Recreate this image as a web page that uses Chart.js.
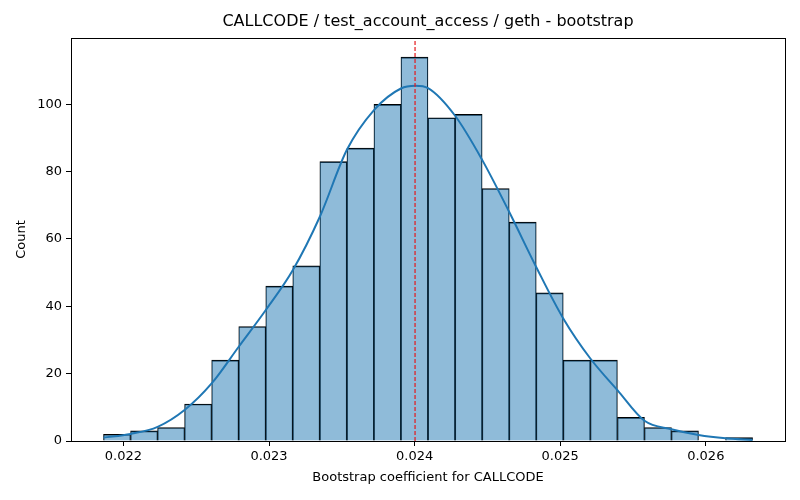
<!DOCTYPE html>
<html>
<head>
<meta charset="utf-8">
<script src="https://cdn.jsdelivr.net/npm/chart.js@4/dist/chart.umd.min.js"></script>
<style>
  html, body { margin: 0; padding: 0; background: #fff; }
  #wrap { width: 800px; height: 500px; }
</style>
</head>
<body>
<div id="wrap"><canvas id="myChart" width="800" height="500"></canvas></div>
<script>
'use strict';

// histogram bins (edges) and counts
const binEdges = [0.021863, 0.022049, 0.022235, 0.022420, 0.022606, 0.022792, 0.022978, 0.023163,
  0.023349, 0.023535, 0.023721, 0.023906, 0.024092, 0.024278, 0.024464, 0.024650, 0.024835,
  0.025021, 0.025207, 0.025393, 0.025579, 0.025764, 0.025950, 0.026136, 0.026321];
const counts = [2, 3, 4, 11, 24, 34, 46, 52, 83, 87, 100, 114, 96, 97, 75, 65, 44, 24, 24, 7, 4, 3, 0, 1];

// kde curve
const kdeX = [0.021863, 0.022049, 0.022235, 0.022420, 0.022606, 0.022792, 0.022978, 0.023163,
  0.023349, 0.023535, 0.023721, 0.023906, 0.024006, 0.024092, 0.024278, 0.024464, 0.024650,
  0.024835, 0.025021, 0.025207, 0.025393, 0.025579, 0.025764, 0.025950, 0.026136, 0.026321];
const kdeY = [1.0, 2.1, 4.2, 9.2, 17.1, 28.0, 38.9, 50.7, 66.6, 86.5, 98.3, 104.7, 105.5, 104.8,
  96.6, 83.5, 68.0, 51.7, 36.4, 24.5, 15.1, 6.0, 3.5, 1.8, 0.8, 0.3];

const markerX = 0.024003;
const xTicks = [0.022, 0.023, 0.024, 0.025, 0.026];
const yTicks = [0, 20, 40, 60, 80, 100];

const xMin = 0.021640, xMax = 0.026544;
const yMax = 119.7;

const titleText = 'CALLCODE / test_account_access / geth - bootstrap';
const FONT = "'DejaVu Sans', sans-serif";

const barData = counts.map((c, i) => ({ x: (binEdges[i] + binEdges[i + 1]) / 2, y: c }));
const kdeData = kdeX.map((x, i) => ({ x: x, y: kdeY[i] }));

// box around the plot area, like matplotlib spines, plus the title centred over it
const frame = {
  id: 'frame',
  afterDraw(chart) {
    const a = chart.chartArea;
    const ctx = chart.ctx;
    ctx.save();
    ctx.strokeStyle = '#000';
    ctx.lineWidth = 1;
    ctx.strokeRect(Math.round(a.left) + 0.5, Math.round(a.top) + 0.5,
      Math.round(a.right - a.left), Math.round(a.bottom - a.top));
    ctx.fillStyle = '#000';
    ctx.font = '16px ' + FONT;
    ctx.textAlign = 'center';
    ctx.textBaseline = 'middle';
    ctx.fillText(titleText, (a.left + a.right) / 2, 22);
    ctx.restore();
  }
};

const ctx = document.getElementById('myChart').getContext('2d');
const chart = new Chart(ctx, {
  type: 'bar',
  data: {
    datasets: [
      {
        type: 'line',
        label: 'marker',
        data: [{ x: markerX, y: 0 }, { x: markerX, y: yMax }],
        borderColor: '#e41a1c',
        borderWidth: 1.2,
        borderDash: [4, 2],
        pointRadius: 0,
        order: 0
      },
      {
        type: 'line',
        label: 'kde',
        data: kdeData,
        borderColor: '#1f77b4',
        borderWidth: 2,
        pointRadius: 0,
        cubicInterpolationMode: 'monotone',
        order: 1
      },
      {
        type: 'bar',
        label: 'Count',
        data: barData,
        backgroundColor: 'rgba(31,119,180,0.5)',
        borderColor: '#000',
        borderWidth: { top: 1, left: 0.6, right: 0.6, bottom: 0 },
        borderSkipped: false,
        barPercentage: 1,
        categoryPercentage: 1,
        grouped: false,
        order: 2
      }
    ]
  },
  options: {
    responsive: false,
    animation: false,
    devicePixelRatio: 1,
    layout: { padding: { left: 0, right: 15, top: 38, bottom: 0 } },
    plugins: {
      legend: { display: false },
      tooltip: { enabled: false },
      title: { display: false }
    },
    scales: {
      x: {
        type: 'linear',
        min: xMin,
        max: xMax,
        offset: false,
        afterBuildTicks: (s) => { s.ticks = xTicks.map(v => ({ value: v })); },
        afterFit: (s) => { s.height = 59; },
        ticks: {
          color: '#000',
          font: { family: FONT, size: 13 },
          padding: 3,
          maxRotation: 0,
          callback: (v) => v.toFixed(3)
        },
        grid: { offset: false, drawOnChartArea: false, drawTicks: true, tickLength: 5, tickColor: '#000' },
        border: { display: false },
        title: {
          display: true,
          text: 'Bootstrap coefficient for CALLCODE',
          color: '#000',
          font: { family: FONT, size: 13 },
          padding: { top: 0, bottom: 15 }
        }
      },
      y: {
        type: 'linear',
        min: 0,
        max: yMax,
        afterBuildTicks: (s) => { s.ticks = yTicks.map(v => ({ value: v })); },
        afterFit: (s) => { s.width = 71; },
        ticks: {
          color: '#000',
          font: { family: FONT, size: 13 },
          padding: 4
        },
        grid: { drawOnChartArea: false, drawTicks: true, tickLength: 5, tickColor: '#000' },
        border: { display: false },
        title: {
          display: true,
          text: 'Count',
          color: '#000',
          font: { family: FONT, size: 13 },
          padding: { top: 14, bottom: 0 }
        }
      }
    }
  },
  plugins: [frame]
});
</script>
</body>
</html>
